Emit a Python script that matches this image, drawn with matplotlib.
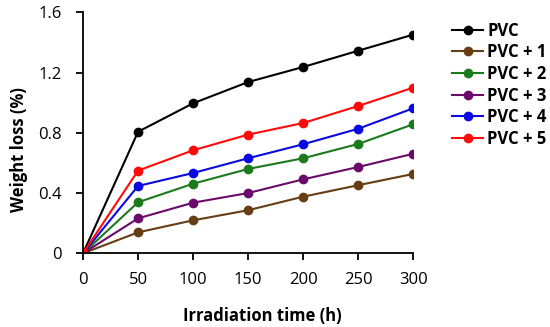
import matplotlib
matplotlib.use("Agg")
import matplotlib.pyplot as plt

plt.rcParams['font.family'] = ['Open Sans', 'DejaVu Sans']

time_h = [0, 50, 100, 150, 200, 250, 300]
series_names = ["PVC", "PVC + 1", "PVC + 2", "PVC + 3", "PVC + 4", "PVC + 5"]
pvc   = [0, 0.807, 0.996, 1.137, 1.237, 1.345, 1.452]
pvc1  = [0, 0.139, 0.219, 0.286, 0.376, 0.452, 0.527]
pvc2  = [0, 0.339, 0.462, 0.560, 0.631, 0.726, 0.857]
pvc3  = [0, 0.232, 0.336, 0.400, 0.491, 0.573, 0.661]
pvc4  = [0, 0.447, 0.533, 0.631, 0.724, 0.827, 0.963]
pvc5  = [0, 0.549, 0.684, 0.788, 0.865, 0.978, 1.100]
values = [pvc, pvc1, pvc2, pvc3, pvc4, pvc5]
colors = ["#000000", "#663d14", "#1b7a1b", "#6a0a6a", "#0a0ae0", "#ff0a0a"]
y_ticks = [0, 0.4, 0.8, 1.2, 1.6]
y_ticklabels = ["0", "0.4", "0.8", "1.2", "1.6"]
x_ticks = [0, 50, 100, 150, 200, 250, 300]

fig = plt.figure(figsize=(5.5, 3.27), dpi=100)
ax = fig.add_axes([0.151, 0.2254, 0.6005, 0.737])

for name, vals, c in zip(series_names, values, colors):
    ax.plot(time_h, vals, color=c, lw=1.5, marker='o', ms=6, label=name)

ax.set_xlim(0, 300)
ax.set_ylim(0, 1.6)
ax.set_xticks(x_ticks)
ax.set_yticks(y_ticks)
ax.set_yticklabels(y_ticklabels)
ax.tick_params(labelsize=12, width=1.3, length=5, direction='out')
ax.tick_params(axis='x', pad=8.5)
ax.tick_params(axis='y', pad=10)
for s in ['top', 'right']:
    ax.spines[s].set_visible(False)
for s in ['left', 'bottom']:
    ax.spines[s].set_linewidth(1.3)
ax.set_xlabel("Irradiation time (h)", fontsize=12, fontweight='bold')
ax.set_ylabel("Weight loss (%)", fontsize=12, fontweight='bold')
ax.xaxis.set_label_coords(0.544, -0.222)
ax.yaxis.set_label_coords(-0.167, 0.43)
for lab in ax.get_xticklabels() + ax.get_yticklabels():
    lab.set_clip_on(False)

leg = fig.legend(loc='upper left', bbox_to_anchor=(0.822, 0.934), frameon=False,
                 prop={'size': 12, 'weight': 'bold'}, handlelength=1.86,
                 handletextpad=0.24, labelspacing=0.22, borderaxespad=0,
                 borderpad=0)

fig.savefig("out.png", dpi=100)
